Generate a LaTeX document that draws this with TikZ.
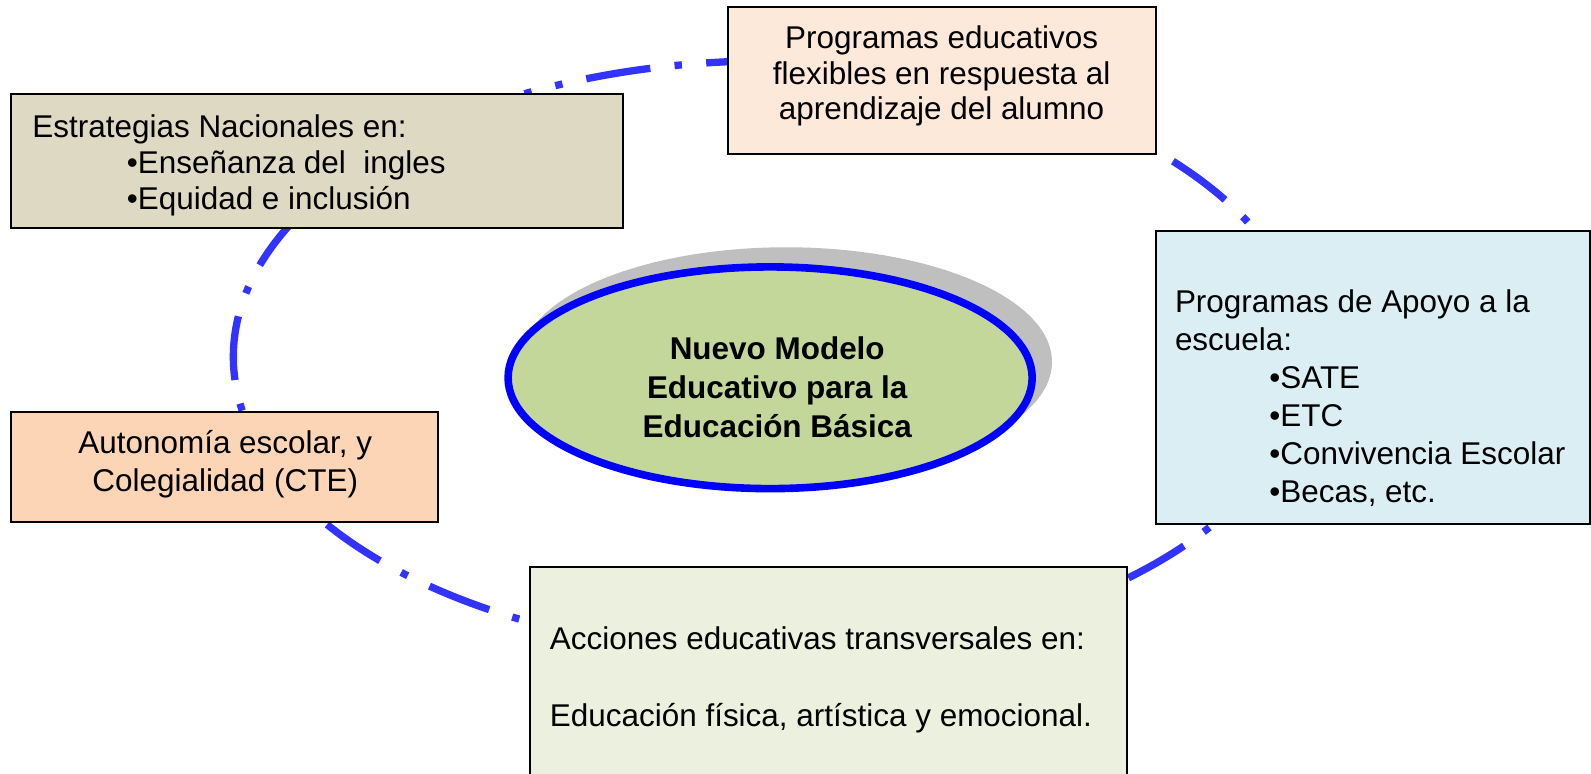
\documentclass[tikz,border=0pt]{standalone}
\usepackage{fontspec}
\setmainfont{Liberation Sans}
\usetikzlibrary{shapes.geometric}
\definecolor{ringblue}{RGB}{51,51,255}
\definecolor{ellfill}{RGB}{196,215,155}
\definecolor{shadowgray}{RGB}{191,191,191}
\definecolor{peach}{RGB}{253,233,217}
\definecolor{khaki}{RGB}{221,217,195}
\definecolor{orangebox}{RGB}{251,213,181}
\definecolor{lightblue}{RGB}{219,238,243}
\definecolor{lightgreen}{RGB}{235,241,222}
\tikzset{
  box/.style={draw=black, line width=2pt, inner sep=0pt, outer sep=0pt, anchor=north west},
  ringbase/.style={draw=ringblue, line width=7.2pt},
  ringa/.style={ringbase, dash pattern=on 7.3pt off 24pt on 64pt off 24pt, dash phase=0pt},
  ringb/.style={ringbase, dash pattern=on 7.2pt off 23.8pt on 63.3pt off 23.8pt, dash phase=0pt},
  ringc/.style={ringbase, dash pattern=on 7.3pt off 24pt on 64pt off 24pt, dash phase=95.3pt},
  txt/.style={inner sep=0pt, outer sep=0pt, font=\fontsize{31}{35}\selectfont},
}
\begin{document}
\begin{tikzpicture}[x=1pt,y=-1pt]
\useasboundingbox (0,0) rectangle (1568,762);
\clip (0,0) rectangle (1568,762);
% ring (dash-dot ellipse), drawn in three arcs to keep the dots in place
\coordinate (ringc) at (759,352);
\coordinate (ringtop) at ([shift={(246.4:529 and 292)}]ringc);
\coordinate (ringrb) at ([shift={(395.07:529 and 292)}]ringc);
\draw[ringa] (ringtop) arc[start angle=246.4, end angle=395.07, x radius=529, y radius=292];
\draw[ringb] (ringrb) arc[start angle=395.07, end angle=575, x radius=529, y radius=292];
\draw[ringc] (ringtop) arc[start angle=246.4, end angle=214, x radius=529, y radius=292];
% boxes
\node[box, fill=peach, minimum width=422, minimum height=145] (top) at (717,7) {};
\node[box, fill=khaki, minimum width=603, minimum height=132] (strat) at (11,93) {};
\node[box, fill=orangebox, minimum width=421, minimum height=108] (auto) at (11,406) {};
\node[box, fill=lightblue, minimum width=428, minimum height=288] (apoyo) at (1139,228) {};
\node[box, fill=lightgreen, minimum width=589, minimum height=260] (acc) at (522,559) {};
% central ellipse
\node[ellipse, fill=shadowgray, inner sep=0pt, minimum width=524, minimum height=226] (shadow) at (774.8,356.7) {};
\node[ellipse, draw=blue, line width=7.5pt, fill=ellfill, inner sep=0pt, minimum width=516.5, minimum height=218.5] (center) at (759,372.3) {};
% texts
\node[txt, align=center] (toptxt) at (928,75) {Programas educativos\\flexibles en respuesta al\\aprendizaje del alumno};
\node[txt, align=left, anchor=west, font=\fontsize{31}{35.5}\selectfont] (strattxt) at (32,163) {Estrategias Nacionales en:\\\hspace*{93pt}•Enseñanza del\ \ ingles\\\hspace*{93pt}•Equidad e inclusión};
\node[txt, align=center, font=\fontsize{31}{37.5}\selectfont] (autotxt) at (222,457.5) {Autonomía escolar, y\\Colegialidad (CTE)};
\node[txt, align=left, anchor=west, font=\fontsize{31}{37.5}\selectfont] (apoyotxt) at (1158,392) {Programas de Apoyo a la\\escuela:\\\hspace*{93pt}•SATE\\\hspace*{93pt}•ETC\\\hspace*{93pt}•Convivencia Escolar\\\hspace*{93pt}•Becas, etc.};
\node[txt, align=left, anchor=west, font=\fontsize{31}{38}\selectfont] (acctxt) at (542,670) {Acciones educativas transversales en:\\[38pt]Educación física, artística y emocional.};
\node[txt, align=center, font=\bfseries\fontsize{31}{38.5}\selectfont] (centertxt) at (766,382) {Nuevo Modelo\\Educativo para la\\Educación Básica};
\end{tikzpicture}
\end{document}
